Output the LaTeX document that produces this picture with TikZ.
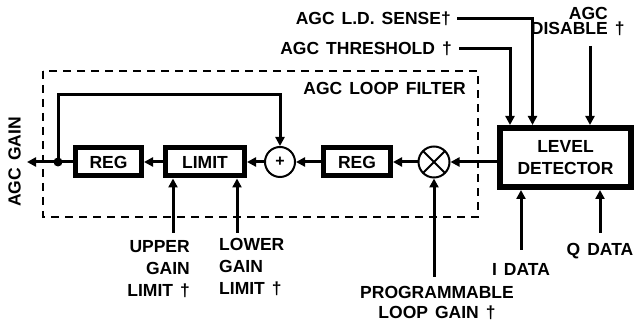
\documentclass[tikz,border=0pt]{standalone}
\usepackage{fontspec}
\setmainfont{Liberation Sans}
\usetikzlibrary{arrows.meta, calc}

% label font: bold, slightly wide word spaces
\newcommand{\lblfont}[1]{\fontsize{17.5}{#1}\selectfont\bfseries\spaceskip=7pt\relax}

\begin{document}
\begin{tikzpicture}[x=1pt, y=-1pt,
  font=\lblfont{22},
  sig/.style={line width=3pt, -{Triangle[length=9pt, width=9pt]}},
  blk/.style={draw, line width=5pt, minimum height=28pt, inner sep=0pt},
  junc/.style={draw, circle, line width=2pt, minimum size=30pt, inner sep=0pt},
  lbl/.style={inner sep=0pt}]

\useasboundingbox (0,0) rectangle (638,328);

% ================================================================
% AGC loop filter (dashed frame)
% ================================================================
\draw[line width=1.8pt, dash pattern=on 8pt off 6pt] (43,71) rectangle (478,217);
\node[lbl, anchor=base east] (filterlbl) at (466,95) {AGC LOOP FILTER};

% Blocks on the signal path
\node[blk, minimum width=66pt] (reg1) at (108.5,162) {REG};
\node[blk, minimum width=79pt] (limit) at (205,162) {LIMIT};
\node[junc, font=\fontsize{16}{16}\selectfont\bfseries] (plus) at (280,162) {+};
\node[blk, minimum width=67pt] (reg2) at (357,162) {REG};
\node[junc, minimum size=31pt,
      path picture={\draw[line width=2pt]
        (path picture bounding box.north east) -- (path picture bounding box.south west)
        (path picture bounding box.north west) -- (path picture bounding box.south east);}]
  (mult) at (434,162) {};
\node[draw, line width=6pt, minimum width=131pt, minimum height=59pt,
      align=center, inner sep=0pt] (level) at (565.5,157.5) {LEVEL\\DETECTOR};

% Output
\coordinate (split) at (58,162);
\coordinate (out) at (27,162);
\node[lbl, rotate=90] (gain) at (14.5,162) {AGC GAIN};

% Signal path
\draw[sig] (level.west |- mult.east) -- (mult.east);
\draw[sig] (mult.west) -- (reg2.east);
\draw[sig] (reg2.west) -- (plus.east);
\draw[sig] (plus.west) -- (limit.east);
\draw[sig] (limit.west) -- (reg1.east);
\draw[sig] (reg1.west) -- (out);
\fill (split) circle (4.5pt);

% Feedback into the adder
\draw[sig] (split) -- ++(0,-67) -| (plus.north);

% ================================================================
% Control inputs (top)
% ================================================================
\node[lbl, anchor=base east] (ldsense) at (451,25) {AGC L.D. SENSE†};
\node[lbl, anchor=base east] (thresh) at (452,55) {AGC THRESHOLD †};
\node[lbl, anchor=north east, align=right, font=\lblfont{15}] (disable) at (608,7)
  {AGC\\DISABLE\rlap{ †}};

\coordinate (ld-sen) at ($(level.north)+(-33,0)$);
\coordinate (ld-thr) at ($(level.north)+(-55.5,0)$);
\coordinate (ld-dis) at ($(level.north)+(24.5,0)$);

\draw[sig] ($(ldsense.base east)+(6,-6)$) -| (ld-sen);
\draw[sig] ($(thresh.base east)+(7,-6.5)$) -| (ld-thr);
\draw[sig] ($(ld-dis |- disable.south)+(0,10)$) -- (ld-dis);

% ================================================================
% Inputs (bottom)
% ================================================================
\node[lbl, anchor=north east, align=right] (upper) at (190,240)
  {UPPER\\GAIN\\LIMIT †};
\node[lbl, anchor=north west, align=left] (lower) at (219,238)
  {LOWER\\GAIN\\LIMIT †};
\node[lbl, anchor=north, align=center, font=\lblfont{20}] (prog) at (437,286)
  {PROGRAMMABLE\\LOOP GAIN †};
\node[lbl, anchor=north] (idata) at (521,263) {I DATA};
\node[lbl, anchor=north] (qdata) at (600,243) {Q DATA};

\coordinate (lim-up) at ($(limit.south)+(-32,0)$);
\coordinate (lim-lo) at ($(limit.south)+(32,0)$);

\draw[sig] ($(lim-up |- upper.north)+(0,-7)$) -- (lim-up);
\draw[sig] ($(lim-lo |- lower.north)+(0,-5)$) -- (lim-lo);
\draw[sig] ($(mult.south |- prog.north)+(0,-9)$) -- (mult.south);
\draw[sig] ($(idata.north)+(0,-13)$) -- (idata.north |- level.south);
\draw[sig] ($(qdata.north)+(0,-10)$) -- (qdata.north |- level.south);

\end{tikzpicture}
\end{document}
